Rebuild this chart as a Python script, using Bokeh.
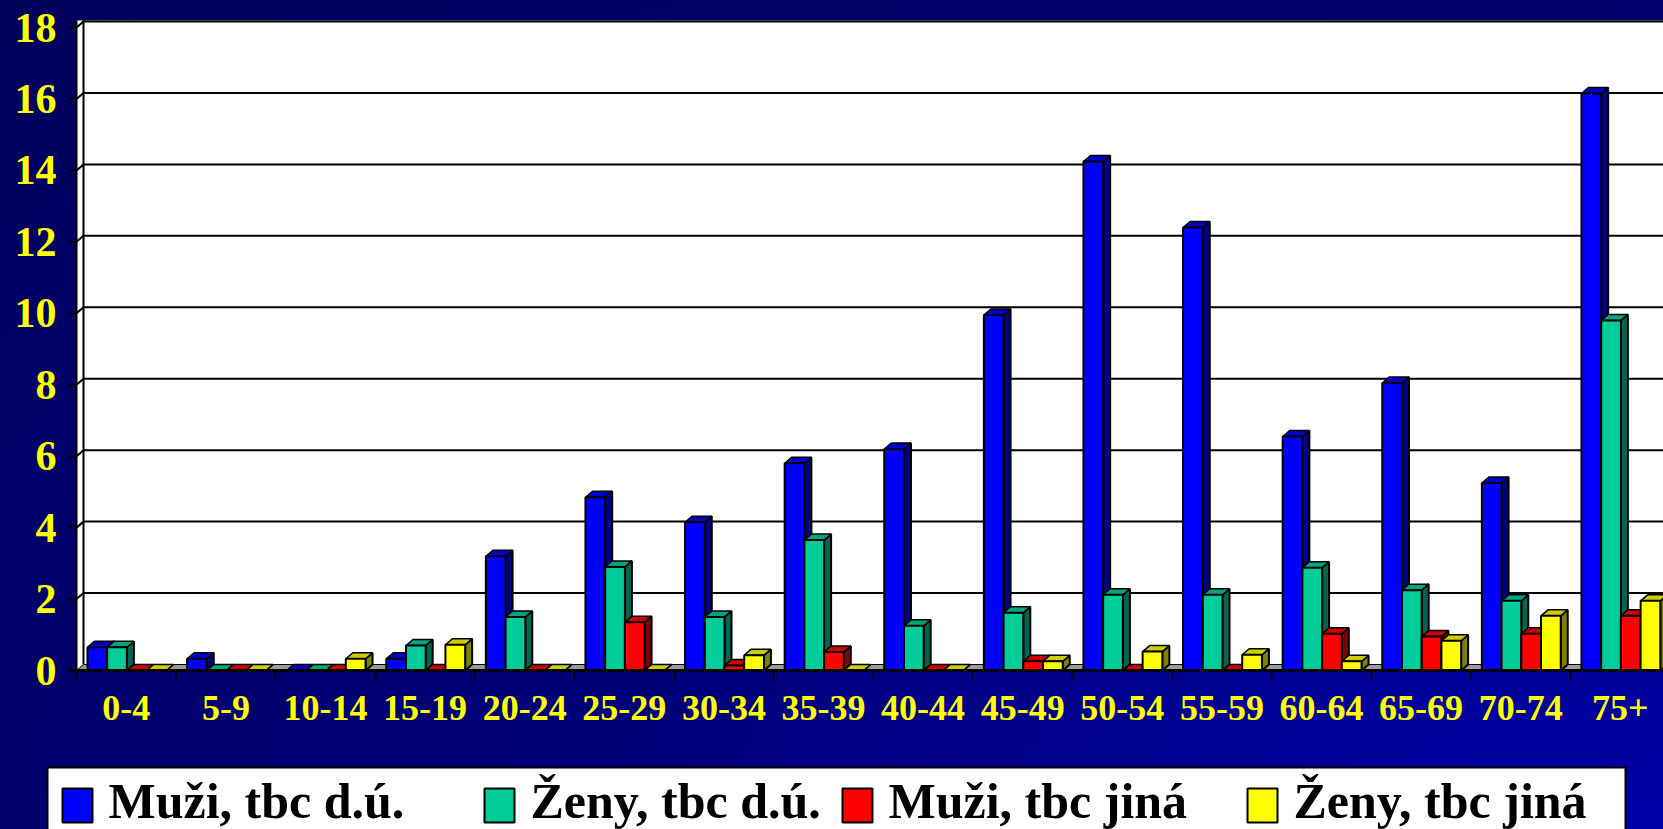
from bokeh.plotting import figure
from bokeh.models import Range1d, FixedTicker, LinearAxis
from bokeh.core.properties import value
from bokeh.embed import file_html
from bokeh.resources import INLINE

# ---------------- data ----------------
categories = ["0-4", "5-9", "10-14", "15-19", "20-24", "25-29", "30-34", "35-39",
              "40-44", "45-49", "50-54", "55-59", "60-64", "65-69", "70-74", "75+"]
muzi_du = [0.65, 0.33, 0.0, 0.33, 3.2, 4.85, 4.15, 5.8, 6.2, 9.95, 14.25, 12.4, 6.55, 8.05, 5.25, 16.15]
zeny_du = [0.65, 0.0, 0.0, 0.7, 1.5, 2.9, 1.5, 3.65, 1.25, 1.62, 2.12, 2.12, 2.88, 2.25, 1.95, 9.8]
muzi_jina = [0.0, 0.0, 0.0, 0.0, 0.0, 1.35, 0.14, 0.52, 0.0, 0.26, 0.0, 0.0, 1.03, 0.95, 1.03, 1.53]
zeny_jina = [0.0, 0.0, 0.33, 0.72, 0.0, 0.0, 0.43, 0.0, 0.0, 0.26, 0.53, 0.44, 0.26, 0.83, 1.53, 1.95]
series_names = ["Muži, tbc d.ú.", "Ženy, tbc d.ú.", "Muži, tbc jiná", "Ženy, tbc jiná"]
y_ticks = [0, 2, 4, 6, 8, 10, 12, 14, 16, 18]

front_colors = ["#0000FF", "#00CC99", "#FF0000", "#FFFF00"]
top_colors = ["#0000CC", "#00A37F", "#CC0000", "#CCCC00"]
side_colors = ["#000080", "#006650", "#800000", "#808000"]

# ---------------- geometry (styling / layout only) ----------------
W, H = 1663, 829
px_x = 99.6      # pixels per category
px_y = 35.72     # pixels per value unit
axis_px, zero_py, wall_py = 76, 670, 20   # y-axis x, zero line y, top of wall (pixels)
x0 = -0.5                                 # left edge of first category
xs = x0 - axis_px / px_x
xe = x0 + (W - axis_px) / px_x
ye = zero_py / px_y
ys = -(H - zero_py) / px_y
wall_top = (zero_py - wall_py) / px_y
dx = 7 / px_x
dy = 6 / px_y
bar_w = 0.198
gap0 = 0.11

p = figure(width=W, height=H, x_range=Range1d(xs, xe), y_range=Range1d(ys, ye),
           output_backend="svg", toolbar_location=None,
           x_axis_type=None, y_axis_type=None,
           min_border_left=0, min_border_top=0, min_border_right=0, min_border_bottom=0)
p.background_fill_alpha = 0
p.border_fill_alpha = 0
p.outline_line_color = None
p.styles = {"background": "radial-gradient(ellipse at 100% 100%, #0000a8 0%, #00007a 45%, #00005a 100%)"}
p.extra_x_ranges = {"px": Range1d(0, W)}
p.extra_y_ranges = {"py": Range1d(H, 0)}

# chart walls
p.quad(left=[x0], right=[xe], bottom=[0], top=[wall_top], fill_color="white", line_color=None)
p.patch([x0, xe, xe, x0 + dx], [0, 0, dy, dy], fill_color="#9a9a9a", line_color="black", line_width=1)
p.segment(x0=[x0 + dx], y0=[dy], x1=[x0 + dx], y1=[wall_top], line_color="black", line_width=2)
gx = [[x0, x0 + dx, xe] for v in y_ticks[1:]]
gy = [[v, v + dy, v + dy] for v in y_ticks[1:]]
p.multi_line(gx, gy, line_color="black", line_width=2)

# bars (3D look: side, top, front faces)
series = [muzi_du, zeny_du, muzi_jina, zeny_jina]
side_xs, side_ys, side_c = [], [], []
top_xs, top_ys, top_c = [], [], []
fl, fr, ft, fc = [], [], [], []
for i in range(len(categories)):
    for k, vals in enumerate(series):
        h = vals[i]
        xl = i - 0.5 + gap0 + k * bar_w
        xr = xl + bar_w
        side_xs.append([xr, xr + dx, xr + dx, xr]); side_ys.append([0, dy, h + dy, h]); side_c.append(side_colors[k])
        top_xs.append([xl, xl + dx, xr + dx, xr]); top_ys.append([h, h + dy, h + dy, h]); top_c.append(top_colors[k])
        fl.append(xl); fr.append(xr); ft.append(h); fc.append(front_colors[k])

p.patches(side_xs, side_ys, fill_color=side_c, line_color="black", line_width=2)
p.patches(top_xs, top_ys, fill_color=top_c, line_color="black", line_width=1.5)
p.quad(left=fl, right=fr, bottom=0, top=ft, fill_color=fc, line_color="black", line_width=2)

# axes (placed at fixed data locations inside the full-canvas frame)
yaxis = LinearAxis(ticker=FixedTicker(ticks=y_ticks), fixed_location=x0, bounds=(0, wall_top))
yaxis.axis_line_color = "black"
yaxis.axis_line_width = 2
yaxis.major_tick_out = 8
yaxis.major_tick_in = 0
yaxis.major_tick_line_width = 2
yaxis.minor_tick_line_color = None
yaxis.major_label_text_font = "Liberation Serif"
yaxis.major_label_text_font_style = "bold"
yaxis.major_label_text_font_size = "42px"
yaxis.major_label_text_color = "#FFFF00"
yaxis.major_label_standoff = 12
p.add_layout(yaxis, "left")

xaxis = LinearAxis(ticker=FixedTicker(ticks=list(range(len(categories))),
                                      minor_ticks=[i - 0.5 for i in range(len(categories) + 1)]),
                   fixed_location=0, bounds=(x0 - 8 / px_x, xe))
xaxis.major_label_overrides = {i: c for i, c in enumerate(categories)}
xaxis.axis_line_color = "black"
xaxis.axis_line_width = 3
xaxis.major_tick_out = 0
xaxis.major_tick_in = 0
xaxis.minor_tick_out = 9
xaxis.minor_tick_in = 0
xaxis.minor_tick_line_color = "black"
xaxis.minor_tick_line_width = 2
xaxis.major_label_text_font = "Liberation Serif"
xaxis.major_label_text_font_style = "bold"
xaxis.major_label_text_font_size = "36px"
xaxis.major_label_text_color = "#FFFF00"
xaxis.major_label_standoff = 16
p.add_layout(xaxis, "below")

# legend (pixel coordinates via extra ranges)
leg_left, leg_right, leg_top = 47, 1625, 767
sq_left = [62, 484, 842, 1247]
sq_w, sq_top, sq_bot = 30, 788, 822
p.quad(left=[leg_left], right=[leg_right], top=[leg_top], bottom=[H + 20],
       fill_color="white", line_color="black", line_width=2, x_range_name="px", y_range_name="py")
p.quad(left=sq_left, right=[s + sq_w for s in sq_left], top=[sq_top] * 4, bottom=[sq_bot] * 4,
       fill_color=front_colors, line_color="black", line_width=2, x_range_name="px", y_range_name="py")
p.text(x=[s + sq_w + 16 for s in sq_left], y=[800] * 4, text=series_names,
       text_font=value("Liberation Serif"), text_font_style="bold", text_font_size="50px",
       text_baseline="middle", text_align="left", text_color="black",
       x_range_name="px", y_range_name="py")

open("out.html", "w").write(file_html(p, INLINE))
